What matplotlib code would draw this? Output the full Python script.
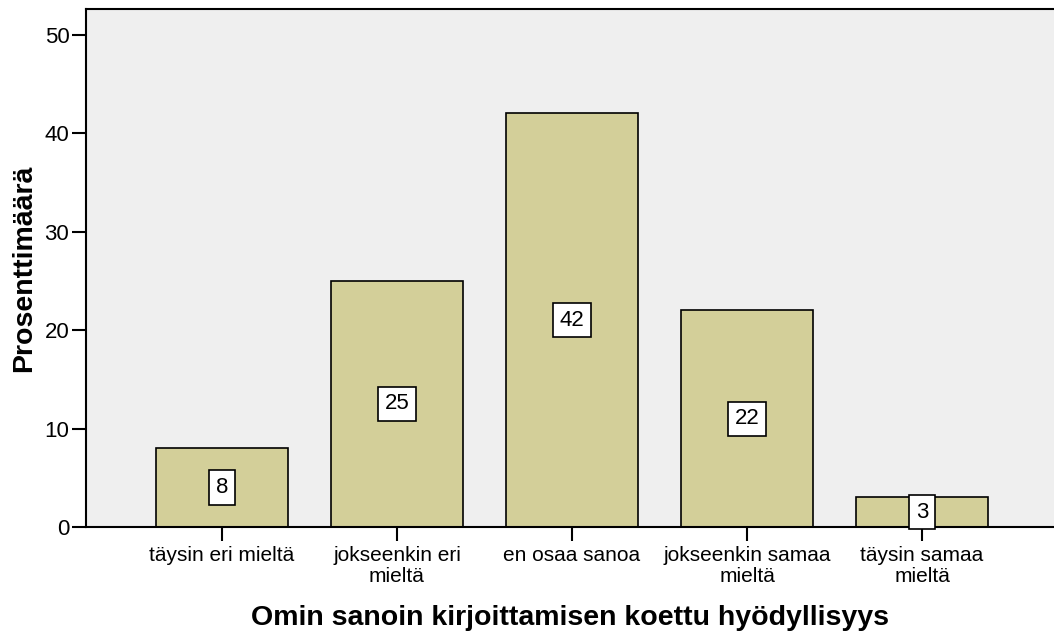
import matplotlib
matplotlib.use("Agg")
import matplotlib.pyplot as plt

plt.rcParams["font.family"] = ["Liberation Sans", "DejaVu Sans"]

categories = ["täysin eri mieltä", "jokseenkin eri\nmieltä", "en osaa sanoa",
              "jokseenkin samaa\nmieltä", "täysin samaa\nmieltä"]
percent = [8, 25, 42, 22, 3]
yticks = [0, 10, 20, 30, 40, 50]

fig = plt.figure(figsize=(10.54, 6.41), dpi=100)
ax = fig.add_axes([86 / 1054, 114 / 641, 1 - 86 / 1054, 518 / 641])
ax.set_facecolor("#efefef")

x = range(len(categories))
ax.bar(x, percent, width=0.754, color="#d3cf99", edgecolor="black",
       linewidth=1.2, zorder=2)

for xi, v in zip(x, percent):
    ax.text(xi, v / 2, str(v), ha="center", va="center", fontsize=16,
            zorder=5, clip_on=False,
            bbox=dict(boxstyle="square,pad=0.3", facecolor="white",
                      edgecolor="black", linewidth=1.2))

ax.set_xlim(-0.777, 4.754)
ax.set_ylim(0, 52.6)
ax.set_yticks(yticks)
ax.set_xticks(list(x))
ax.set_xticklabels(categories, fontsize=15, linespacing=1.1)
ax.tick_params(axis="y", labelsize=16, length=10, width=1.5, pad=2)
ax.tick_params(axis="x", length=10, width=1.5, pad=4)

ax.spines["right"].set_visible(False)
for s in ["left", "bottom", "top"]:
    ax.spines[s].set_linewidth(1.5)

ax.set_xlabel("Omin sanoin kirjoittamisen koettu hyödyllisyys",
              fontsize=20.5, fontweight="bold", labelpad=14)
ax.set_ylabel("Prosenttimäärä", fontsize=20.5, fontweight="bold", labelpad=5)

fig.savefig("out.png", dpi=100)
